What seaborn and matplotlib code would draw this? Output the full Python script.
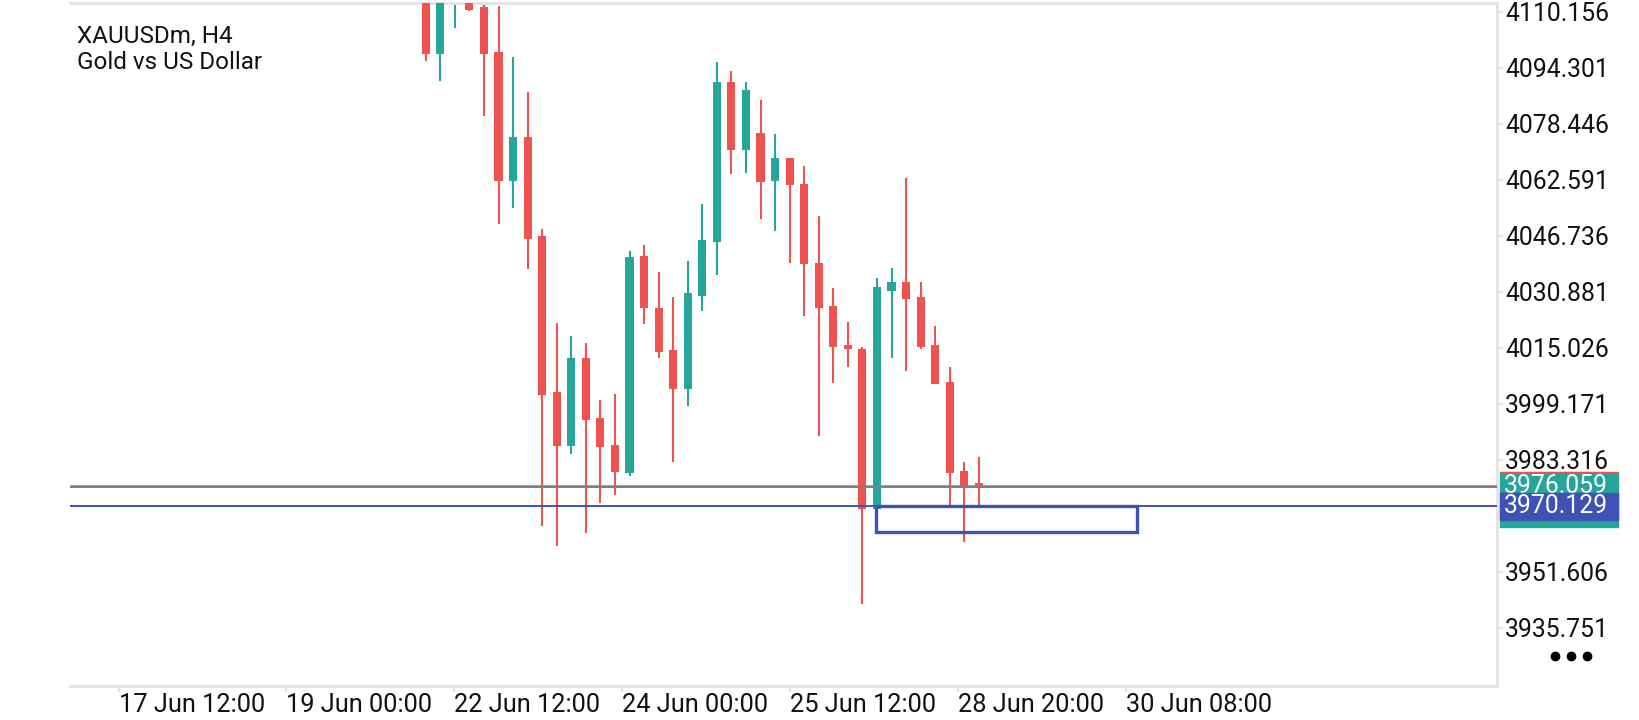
import matplotlib
matplotlib.use("Agg")
import numpy as np
import pandas as pd
import seaborn as sns
import matplotlib.pyplot as plt
import matplotlib.transforms as mtransforms
from matplotlib import font_manager
from matplotlib.lines import Line2D
from matplotlib.patches import Rectangle

symbol = "XAUUSDm, H4"
description = "Gold vs US Dollar"

# H4 candles, oldest first (first few open above the visible range)
opens = [4118.0, 4098.3, 4114.0, 4113.0, 4111.6, 4098.8, 4062.4, 4074.8, 4046.8, 4002.6,
         3987.4, 4012.2, 3995.2, 3987.6, 3979.7, 4041.1, 4026.4, 4014.5, 4003.5, 4029.8,
         4045.1, 4090.3, 4071.2, 4075.9, 4062.4, 4068.8, 4061.5, 4039.1, 4026.9, 4015.9,
         4014.8, 3969.4, 4031.2, 4033.7, 4029.5, 4015.9, 4005.3, 3980.1, 3976.5]
highs = [4121.0, 4122.0, 4120.0, 4115.0, 4112.9, 4111.9, 4097.3, 4087.4, 4048.7, 4022.1,
         4018.3, 4016.4, 4000.2, 4001.9, 4042.5, 4044.2, 4036.6, 4029.5, 4039.7, 4055.8,
         4096.0, 4093.5, 4090.3, 4085.2, 4075.6, 4068.8, 4066.6, 4052.4, 4032.0, 4022.4,
         4015.3, 4034.8, 4037.7, 4063.2, 4033.7, 4021.1, 4009.7, 3982.7, 3984.2]
lows = [4096.3, 4090.6, 4105.5, 4110.5, 4080.8, 4050.2, 4054.7, 4037.5, 3964.5, 3959.0,
        3984.9, 3962.7, 3971.2, 3973.5, 3978.8, 4021.9, 4012.3, 3982.8, 3998.7, 4025.6,
        4035.8, 4064.4, 4064.7, 4051.6, 4048.2, 4039.2, 4024.2, 3990.1, 4005.2, 4009.5,
        3942.6, 3969.2, 4012.3, 4008.6, 4014.6, 4004.9, 3970.6, 3960.2, 3970.3]
closes = [4098.3, 4116.0, 4117.0, 4110.8, 4098.3, 4062.2, 4074.8, 4046.0, 4001.7, 3987.4,
          4012.2, 3994.7, 3987.0, 3979.8, 4040.8, 4026.2, 4014.0, 4003.5, 4030.6, 4045.6,
          4090.3, 4071.2, 4088.1, 4062.1, 4068.8, 4061.3, 4038.9, 4026.4, 4015.4, 4014.6,
          3969.4, 4032.3, 4033.7, 4028.9, 4015.4, 4004.9, 3979.7, 3975.5, 3976.06]

price_ticks = [4110.156, 4094.301, 4078.446, 4062.591, 4046.736, 4030.881,
               4015.026, 3999.171, 3983.316, 3967.461, 3951.606, 3935.751]
time_labels = ["17 Jun 12:00", "19 Jun 00:00", "22 Jun 12:00", "24 Jun 00:00",
               "25 Jun 12:00", "28 Jun 20:00", "30 Jun 08:00"]

bid_price = 3976.059
level_price = 3970.129
zone_first_bar = 30.95
zone_last_bar = 48.9
zone_top = 3970.129
zone_bottom = 3962.9

UP = "#26a69a"
DOWN = "#ef5350"
BLUE = "#3f51b5"
FRAME = "#e3e3e3"

sns.set_theme(style="white")
names = {f.name for f in font_manager.fontManager.ttflist}
plt.rcParams["font.family"] = ["Roboto", "DejaVu Sans"]
narrow = "Liberation Sans Narrow" if "Liberation Sans Narrow" in names else "Roboto"

df = pd.DataFrame({"open": opens, "high": highs, "low": lows, "close": closes})
df["bar"] = np.arange(len(df))
colors = np.where(df["close"] >= df["open"], UP, DOWN)

fig = plt.figure(figsize=(16.4, 7.2), dpi=100)
ax = fig.add_axes([70 / 1640, 1 - 686 / 720, 1427 / 1640, 683 / 720])

ax.vlines(df["bar"], df["low"], df["high"], colors=colors, lw=1.5, zorder=2)
ax.bar(df["bar"], (df["close"] - df["open"]).abs().clip(lower=0.7),
       bottom=df[["open", "close"]].min(axis=1), width=0.56,
       color=colors, linewidth=0, zorder=3)

ax.axhline(bid_price, color="#858080", lw=1.8, zorder=4)
ax.axhline(bid_price - 0.5, color=UP, lw=0.7, zorder=4)
ax.axhline(level_price, color=BLUE, lw=1.4, zorder=4)
ax.add_patch(Rectangle((zone_first_bar, zone_bottom), zone_last_bar - zone_first_bar,
                       zone_top - zone_bottom, fill=False, edgecolor=BLUE, lw=2.4, zorder=5))

ax.set_xlim(-24.44, 73.6)
ax.set_ylim(3919.3, 4112.7)

sns.despine(ax=ax, left=True, top=False, right=False, bottom=False)
for side in ["top", "right", "bottom"]:
    ax.spines[side].set_color(FRAME)
    ax.spines[side].set_linewidth(2)

# the 3967.461 label sits under the price tags, so it is left blank
ax.yaxis.tick_right()
ax.set_yticks(price_ticks)
ax.set_yticklabels(["" if abs(v - level_price) < 5 else f"{v:.3f}" for v in price_ticks])
ax.tick_params(axis="y", right=True, left=False, length=4, width=1.5, color=FRAME,
               pad=2, labelsize=17.8, labelcolor="#111111")

tick_pos = -21.1 + 11.53 * np.arange(len(time_labels))
ax.set_xticks(tick_pos)
ax.set_xticklabels(time_labels, ha="left", fontfamily=narrow,
                   fontsize=20 if narrow != "Roboto" else 18.3)
ax.tick_params(axis="x", bottom=True, length=4, width=1.5, color=FRAME,
               pad=1, labelcolor="#111111")

# price tags on the right scale
trans = mtransforms.blended_transform_factory(ax.transAxes, ax.transData)
ax.add_patch(Rectangle((1.0021, 3964.35), 0.0827, 15.55, transform=trans,
                       color=UP, clip_on=False, zorder=10))
ax.plot([1.0021, 1.0848], [3979.9, 3979.9], transform=trans, color=DOWN,
        lw=0.8, clip_on=False, zorder=11)
ax.text(1.0045, bid_price, f"{bid_price:.3f}", transform=trans, color="white",
        fontsize=17.8, va="center", ha="left", clip_on=False, zorder=11)
ax.add_patch(Rectangle((1.0021, 3966.33), 0.0827, 7.63, transform=trans,
                       color=BLUE, clip_on=False, zorder=12))
ax.text(1.0045, level_price, f"{level_price:.3f}", transform=trans, color="white",
        fontsize=17.8, va="center", ha="left", clip_on=False, zorder=13)

fig.text(77 / 1640, 1 - 43 / 720, symbol, fontsize=17.5, color="#111111", va="baseline")
fig.text(77 / 1640, 1 - 69 / 720, description, fontsize=17.5, color="#111111", va="baseline")

fig.add_artist(Line2D([1555 / 1640, 1571 / 1640, 1587 / 1640], [1 - 656 / 720] * 3,
                      transform=fig.transFigure, ls="none", marker="o", ms=6,
                      color="black"))

fig.savefig("out.png", dpi=100, facecolor="white")
